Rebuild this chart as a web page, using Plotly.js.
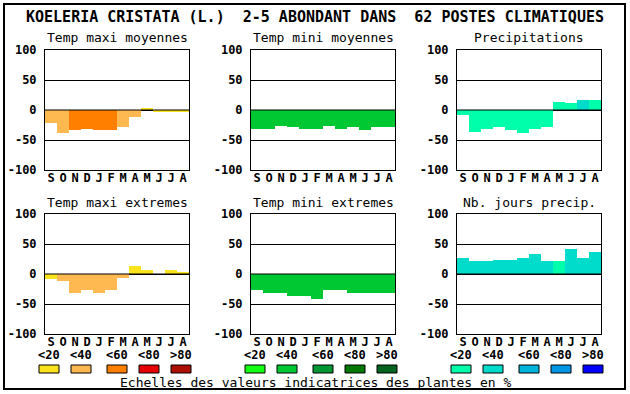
<!DOCTYPE html>
<html>
<head>
<meta charset="utf-8">
<script src="https://cdn.plot.ly/plotly-3.0.1.min.js"></script>
<style>html,body{margin:0;padding:0;background:#fff;}#chart{width:630px;height:394px;}</style>
</head>
<body>
<div id="chart"></div>
<script>
// ---- Data ----
const monthIndex = [0,1,2,3,4,5,6,7,8,9,10,11];
const monthLabels = ['S','O','N','D','J','F','M','A','M','J','J','A'];
const yTickVals = [-100,-50,0,50,100];
const yTickText = ['-100','-50','0','50','100'];

const panelTitles = ['Temp maxi moyennes','Temp mini moyennes','Precipitations',
                     'Temp maxi extremes','Temp mini extremes','Nb. jours precip.'];

const tmaxMoy = [-21,-38,-33,-32,-34,-34,-28,-11,3,-4,-4,-4];
const tmaxMoyClass = [2,2,3,3,3,3,2,2,1,1,1,1];
const tminMoy = [-31,-31,-27,-28,-31,-31,-27,-31,-28,-33,-28,-28];
const tminMoyClass = [2,2,2,2,2,2,2,2,2,2,2,2];
const precip = [-8,-36,-31,-28,-33,-38,-31,-28,13,12,17,17];
const precipClass = [1,1,1,1,1,1,1,1,1,1,2,1];
const tmaxExt = [-8,-12,-31,-27,-31,-27,-7,14,7,0,6,4];
const tmaxExtClass = [1,2,2,2,2,2,2,1,1,1,1,1];
const tminExt = [-26,-32,-32,-37,-36,-41,-27,-26,-31,-31,-32,-31];
const tminExtClass = [2,2,2,2,2,2,2,2,2,2,2,2];
const nbJours = [26,21,21,24,24,26,34,21,21,42,27,36];
const nbJoursClass = [2,2,2,2,2,2,2,2,1,2,2,2];

const scaleLabels = ['<20','<40','<60','<80','>80'];
const paletteTmax = ['#fae31c','#ffb950','#ff8000','#e60000','#ad1000'];
const paletteTmin = ['#14ff14','#00c832','#009632','#007800','#00641e'];
const palettePrec = ['#00ffaa','#00dccb','#00b4dc','#0096e6','#0000ff'];
const footer = 'Echelles des valeurs indicatrices des plantes en %';
const mainTitle = 'KOELERIA CRISTATA (L.)  2-5 ABONDANT DANS  62 POSTES CLIMATIQUES';

// ---- Layout helpers ----
const W = 630, H = 394;
const px = v => v / W;
const py = v => 1 - v / H;
const FONT = 'DejaVu Sans Mono, Liberation Mono, monospace';

const panels = [
  {vals: tmaxMoy, cls: tmaxMoyClass, pal: paletteTmax},
  {vals: tminMoy, cls: tminMoyClass, pal: paletteTmin},
  {vals: precip,  cls: precipClass,  pal: palettePrec},
  {vals: tmaxExt, cls: tmaxExtClass, pal: paletteTmax},
  {vals: tminExt, cls: tminExtClass, pal: paletteTmin},
  {vals: nbJours, cls: nbJoursClass, pal: palettePrec}
];
const colLeft = [45, 251, 457];
const plotW = 144;
const rowTop = [50, 214];
const plotH = 120;

const data = [];
const layout = {
  width: W, height: H,
  margin: {l:0, r:0, t:0, b:0},
  paper_bgcolor: '#fff', plot_bgcolor: '#fff',
  showlegend: false,
  bargap: 0,
  font: {family: FONT, color: '#000'},
  annotations: [], shapes: []
};

panels.forEach((p, i) => {
  const col = i % 3, row = Math.floor(i / 3);
  const sfx = i === 0 ? '' : String(i + 1);
  const xa = 'x' + sfx, ya = 'y' + sfx;
  data.push({
    type: 'bar', x: monthIndex, y: p.vals,
    marker: {color: p.cls.map(c => p.pal[c - 1]), line: {width: 0}},
    xaxis: xa, yaxis: ya, hoverinfo: 'skip'
  });
  const x0 = colLeft[col], y0 = rowTop[row];
  layout['xaxis' + sfx] = {
    domain: [px(x0), px(x0 + plotW)], anchor: ya,
    range: [-0.5, 11.5], tickvals: monthIndex, ticktext: monthLabels,
    showgrid: false, zeroline: false, showline: true, mirror: true,
    linecolor: '#000', linewidth: 1, ticks: '', ticklabelstandoff: -3,
    tickfont: {family: FONT, size: 12, color: '#000', weight: 'bold'},
    fixedrange: true
  };
  layout['yaxis' + sfx] = {
    domain: [py(y0 + plotH), py(y0)], anchor: xa,
    range: [-100, 100], tickvals: yTickVals, ticktext: yTickText,
    showgrid: true, gridcolor: '#000', gridwidth: 1, zeroline: false,
    showline: true, mirror: true, linecolor: '#000', linewidth: 1,
    ticks: '', ticklabelstandoff: 5,
    tickfont: {family: FONT, size: 12, color: '#000', weight: 'bold'},
    fixedrange: true
  };
  layout.shapes.push({type: 'line', xref: xa + ' domain', yref: ya,
    x0: 0, x1: 1, y0: 0, y1: 0, layer: 'above', line: {color: '#000', width: 1}});
  layout.annotations.push({
    xref: 'paper', yref: 'paper', x: px(x0 + plotW / 2), y: py(y0 - 12),
    xanchor: 'center', yanchor: 'middle', showarrow: false,
    text: panelTitles[i], font: {family: FONT, size: 13, color: '#000'}
  });
});

// legend scales
const swOff = [-6, 26, 62, 94, 126];
const pals = [paletteTmax, paletteTmin, palettePrec];
colLeft.forEach((cx, g) => {
  swOff.forEach((o, k) => {
    const sx = cx + o;
    layout.shapes.push({type: 'rect', xref: 'paper', yref: 'paper',
      x0: px(sx), x1: px(sx + 20), y0: py(373), y1: py(365),
      fillcolor: pals[g][k], line: {color: '#000', width: 1}});
    layout.annotations.push({xref: 'paper', yref: 'paper', x: px(sx + 10), y: py(355),
      xanchor: 'center', yanchor: 'middle', showarrow: false, text: scaleLabels[k].replace('<','&lt;').replace('>','&gt;'),
      font: {family: FONT, size: 12, color: '#000', weight: 'bold'}});
  });
});

layout.annotations.push({xref: 'paper', yref: 'paper', x: px(316), y: py(382),
  xanchor: 'center', yanchor: 'middle', showarrow: false, text: footer,
  font: {family: FONT, size: 13, color: '#000'}});
layout.annotations.push({xref: 'paper', yref: 'paper', x: px(315), y: py(17),
  xanchor: 'center', yanchor: 'middle', showarrow: false, text: mainTitle,
  font: {family: FONT, size: 15, color: '#000', weight: 'bold'}});

// outer frame
layout.shapes.push({type: 'rect', xref: 'paper', yref: 'paper',
  x0: px(4), x1: px(625), y0: py(389), y1: py(4), layer: 'above',
  line: {color: '#000', width: 2}});

Plotly.newPlot('chart', data, layout, {staticPlot: true, displayModeBar: false});
</script>
</body>
</html>
